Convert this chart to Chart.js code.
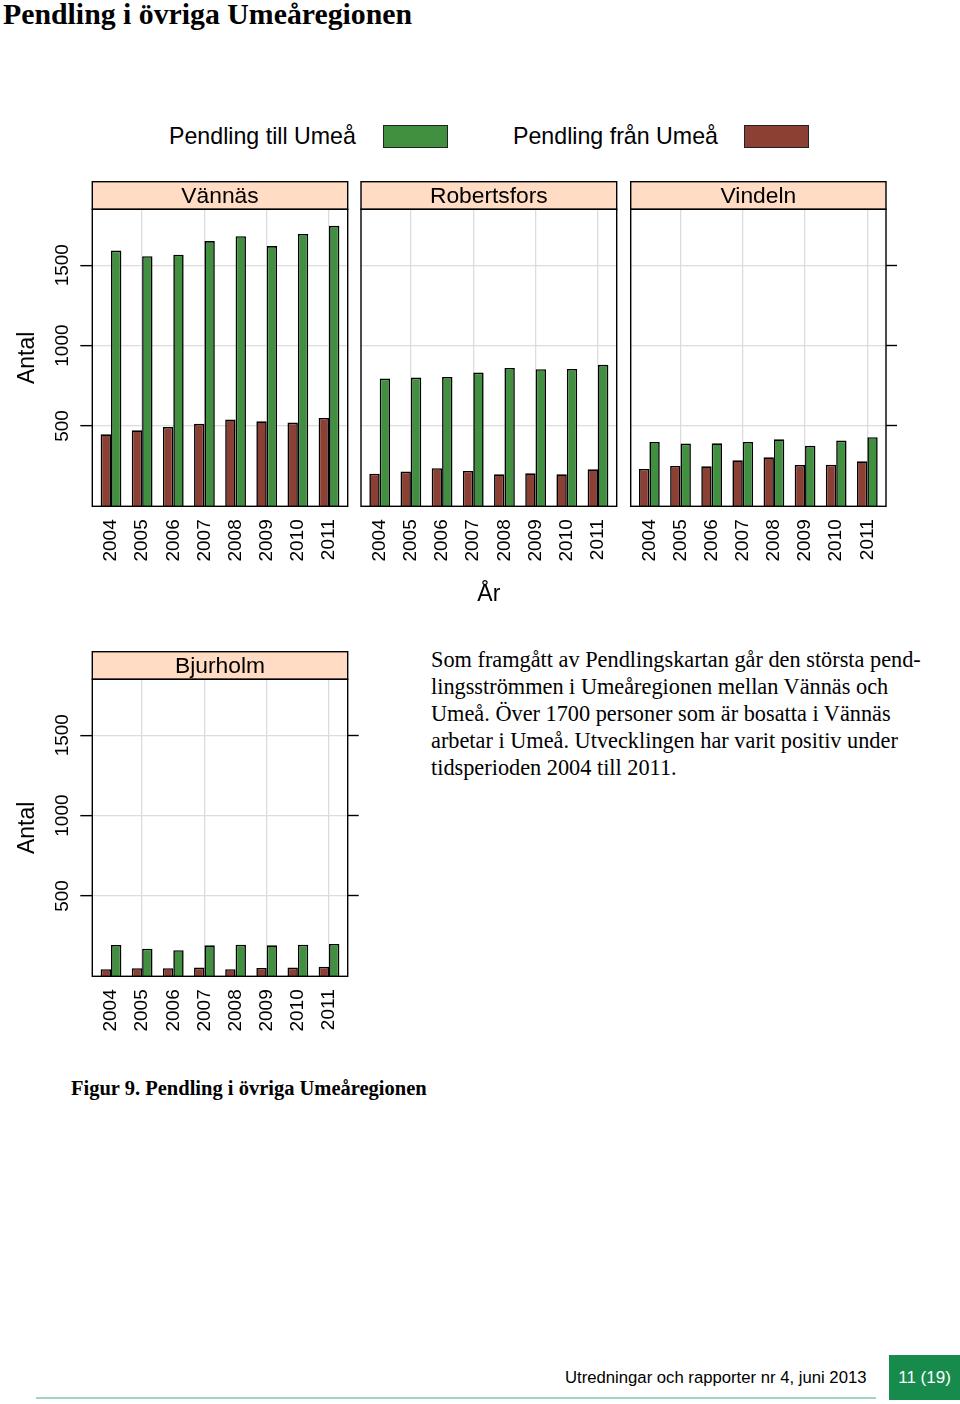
<!DOCTYPE html>
<html><head><meta charset="utf-8">
<script src="https://cdn.jsdelivr.net/npm/chart.js@4.4.1/dist/chart.umd.min.js"></script>
<style>
html,body{margin:0;padding:0;background:#fff;}
body{width:960px;height:1404px;position:relative;overflow:hidden;}
.t{position:absolute;white-space:nowrap;color:#000;}
canvas{position:absolute;}
#title{left:3px;top:-1.5px;font:bold 29.8px/30px "Liberation Serif";}
.leg{font:23.2px/23px "Liberation Sans";top:124.5px;}
.lbox{position:absolute;top:125px;width:63px;height:21px;border:1px solid #222;}
.para{left:431px;font:22.3px/27px "Liberation Serif";}
#caption{left:71px;top:1075.8px;font:bold 20.5px/24px "Liberation Serif";}
#footer{left:565px;top:1368px;font:16.7px/20px "Liberation Sans";}
#pagebox{position:absolute;left:889px;top:1355px;width:71px;height:45px;background:#178B4C;color:#fff;font:17px "Liberation Sans";display:flex;align-items:center;justify-content:center;}
#rule{position:absolute;left:36px;top:1397px;width:840px;height:2px;background:#a3d3c1;}
</style></head>
<body>
<div id="title" class="t">Pendling i övriga Umeåregionen</div>
<div class="t leg" style="left:169px">Pendling till Umeå</div>
<div class="lbox" style="left:383px;background:#40903F"></div>
<div class="t leg" style="left:513px">Pendling från Umeå</div>
<div class="lbox" style="left:744px;background:#8B4033"></div>

<div class="t para" style="top:646px">Som framgått av Pendlingskartan går den största pend-</div>
<div class="t para" style="top:673px">lingsströmmen i Umeåregionen mellan Vännäs och</div>
<div class="t para" style="top:700px">Umeå. Över 1700 personer som är bosatta i Vännäs</div>
<div class="t para" style="top:727px">arbetar i Umeå. Utvecklingen har varit positiv under</div>
<div class="t para" style="top:754px">tidsperioden 2004 till 2011.</div>

<div id="caption" class="t">Figur 9. Pendling i övriga Umeåregionen</div>
<div id="footer" class="t">Utredningar och rapporter nr 4, juni 2013</div>
<div id="pagebox">11 (19)</div>
<div id="rule"></div>

<script>
// ---- data ----
const years = ['2004','2005','2006','2007','2008','2009','2010','2011'];
const yTicks = [500, 1000, 1500];
const seriesNames = ['Pendling från Umeå', 'Pendling till Umeå'];
const vannasFran = [448, 473, 494, 513, 540, 529, 521, 550];
const vannasTill = [1591, 1556, 1565, 1650, 1681, 1619, 1695, 1745];
const robertsforsFran = [203, 216, 237, 220, 199, 205, 199, 230];
const robertsforsTill = [795, 801, 805, 832, 861, 853, 855, 880];
const vindelnFran = [232, 251, 249, 286, 305, 257, 259, 280];
const vindelnTill = [400, 390, 392, 400, 417, 376, 409, 430];
const bjurholmFran = [44, 50, 50, 54, 44, 52, 54, 60];
const bjurholmTill = [195, 172, 162, 193, 197, 193, 197, 201];

const Y_MAX = 1848;
const RED = '#8B4033';
const GREEN = '#40903F';
const GRID = '#dcdcdc';
const STRIP = '#FFDCC3';
const SANS = 'Liberation Sans';

const stripPlugin = {
  id: 'strip',
  beforeDraw(chart) {
    const tb = chart.titleBlock, ca = chart.chartArea, ctx = chart.ctx;
    ctx.save();
    ctx.fillStyle = STRIP;
    ctx.fillRect(ca.left, tb.top, ca.right - ca.left, ca.top - tb.top);
    ctx.restore();
  },
  afterDraw(chart) {
    const tb = chart.titleBlock, ca = chart.chartArea, ctx = chart.ctx;
    ctx.save();
    ctx.strokeStyle = '#000';
    ctx.lineWidth = 1.4;
    ctx.strokeRect(ca.left, tb.top + 0.7, ca.right - ca.left, ca.top - tb.top - 0.7);
    ctx.strokeRect(ca.left, ca.top, ca.right - ca.left, ca.bottom - ca.top);
    ctx.restore();
  }
};

function noPad(s) { s.paddingLeft = 0; s.paddingRight = 0; s.paddingTop = 0; s.paddingBottom = 0; }

function makePanel(name, fran, till, g) {
  const c = document.createElement('canvas');
  c.width = g.w; c.height = g.h;
  c.style.left = g.x + 'px'; c.style.top = g.y + 'px';
  c.style.width = g.w + 'px'; c.style.height = g.h + 'px';
  document.body.appendChild(c);
  const toPts = arr => arr.map((v, i) => ({x: i + 1, y: v}));
  const scales = {
    x: {
      type: 'linear', min: 0.4, max: 8.6, offset: false,
      afterBuildTicks: s => { s.ticks = years.map((y, i) => ({value: i + 1})); },
      ticks: {
        autoSkip: false, minRotation: 90, maxRotation: 90, padding: 13,
        color: '#000', font: {family: SANS, size: 19},
        callback: v => years[Math.round(v) - 1]
      },
      grid: {
        offset: false, drawTicks: false, lineWidth: 1.3,
        color: ctx => (ctx.tick && ctx.tick.value % 2 === 0) ? GRID : 'rgba(0,0,0,0)'
      },
      border: {display: false},
      title: {
        display: !!g.xTitle, text: 'År', color: '#000',
        font: {family: SANS, size: 23}, padding: {top: 0, bottom: 2.2}
      },
      afterFit: s => { s.height = g.xH; noPad(s); }
    },
    y: {
      type: 'linear', position: 'left', min: 0, max: Y_MAX,
      afterBuildTicks: s => { s.ticks = yTicks.map(v => ({value: v})); },
      ticks: {
        display: !!g.leftAxis, minRotation: 90, maxRotation: 90, crossAlign: 'center',
        padding: -4, color: '#000', font: {family: SANS, size: 19},
        callback: v => String(v)
      },
      grid: {
        color: GRID, lineWidth: 1.3, drawTicks: !!g.leftAxis, tickLength: 12,
        tickColor: '#000', tickWidth: 1.4
      },
      border: {display: false},
      title: {
        display: !!g.leftAxis, text: 'Antal', color: '#000',
        font: {family: SANS, size: 23}, padding: {top: 14, bottom: 0}
      },
      afterFit: s => { s.width = g.leftW; noPad(s); }
    }
  };
  if (g.rightTicks) {
    scales.y2 = {
      type: 'linear', position: 'right', min: 0, max: Y_MAX,
      afterBuildTicks: s => { s.ticks = yTicks.map(v => ({value: v})); },
      ticks: {display: false},
      grid: {drawOnChartArea: false, drawTicks: true, tickLength: 11, tickColor: '#000', tickWidth: 1.4},
      border: {display: false},
      afterFit: s => { s.width = g.rightW; noPad(s); }
    };
  }
  new Chart(c, {
    type: 'bar',
    data: {
      datasets: [
        {label: seriesNames[0], data: toPts(fran), backgroundColor: RED, borderColor: '#000',
         borderWidth: 1.6, categoryPercentage: 2 / 3, barPercentage: 1, yAxisID: 'y'},
        {label: seriesNames[1], data: toPts(till), backgroundColor: GREEN, borderColor: '#000',
         borderWidth: 1.6, categoryPercentage: 2 / 3, barPercentage: 1, yAxisID: 'y'}
      ]
    },
    options: {
      responsive: false, animation: false, devicePixelRatio: 1,
      layout: {padding: {left: 0, right: g.padR, top: 0, bottom: 0}},
      plugins: {
        legend: {display: false}, tooltip: {enabled: false},
        title: {
          display: true, text: name, fullSize: false, color: '#000',
          font: {family: SANS, size: 22.8, weight: 'normal', lineHeight: 1.0},
          padding: {top: 4.8, bottom: 0.7}
        }
      },
      scales
    },
    plugins: [stripPlugin]
  });
}

makePanel('Vännäs', vannasFran, vannasTill,
  {x: 0, y: 181, w: 360, h: 390, xH: 64.7, leftW: 92.3, padR: 12.3, leftAxis: true});
makePanel('Robertsfors', robertsforsFran, robertsforsTill,
  {x: 355, y: 181, w: 275, h: 430, xH: 104.7, leftW: 6, padR: 13.3, xTitle: true});
makePanel('Vindeln', vindelnFran, vindelnTill,
  {x: 620, y: 181, w: 280, h: 390, xH: 64.7, leftW: 10.7, padR: 3, rightTicks: true, rightW: 11});
makePanel('Bjurholm', bjurholmFran, bjurholmTill,
  {x: 0, y: 651, w: 365, h: 390, xH: 64.7, leftW: 92.3, padR: 6, leftAxis: true, rightTicks: true, rightW: 11.3});
</script>
</body></html>
